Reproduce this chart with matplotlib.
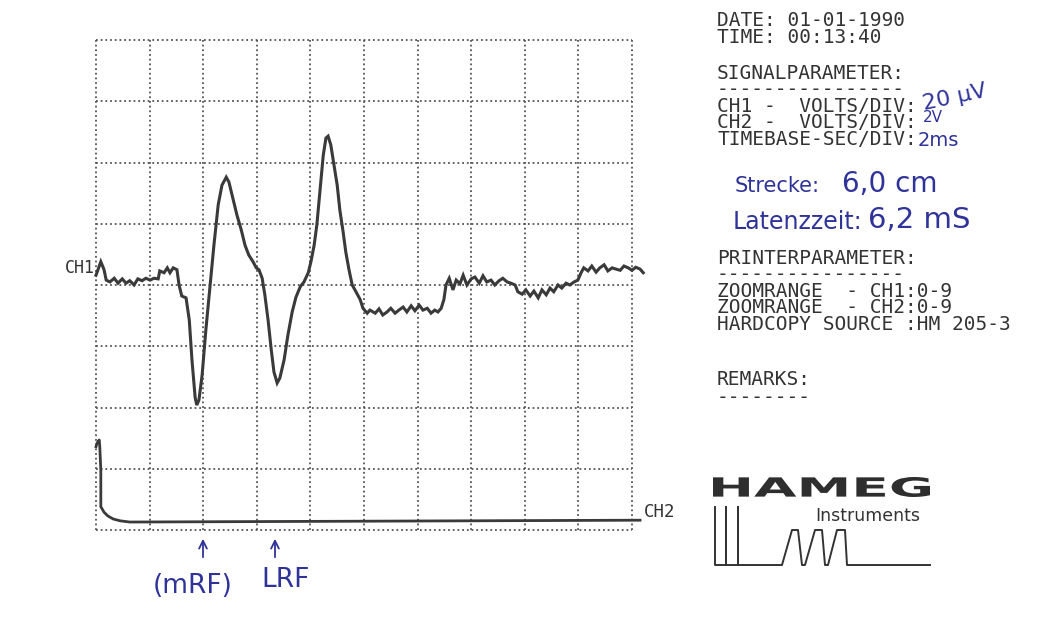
import matplotlib
matplotlib.use("Agg")
import matplotlib.pyplot as plt
from matplotlib.font_manager import FontProperties
from matplotlib.patches import PathPatch
from matplotlib.textpath import TextPath
from matplotlib.transforms import Affine2D

# CH1 trace, screen divisions (x: 0-10 at 2 ms/div, y: 0-8 at 20 uV/div)
ch1_x = [0.00, 0.09, 0.15, 0.19, 0.26, 0.34, 0.41, 0.49, 0.56, 0.63, 0.71, 0.78,
         0.86, 0.93, 1.01, 1.08, 1.16, 1.19, 1.27, 1.33, 1.38, 1.44, 1.51, 1.55,
         1.60, 1.68, 1.74, 1.79, 1.85, 1.88, 1.92, 1.98, 2.05, 2.13, 2.20, 2.28,
         2.35, 2.43, 2.48, 2.56, 2.63, 2.71, 2.78, 2.85, 2.93, 2.99, 3.04, 3.10,
         3.15, 3.21, 3.27, 3.32, 3.38, 3.43, 3.51, 3.58, 3.66, 3.73, 3.81, 3.88,
         3.96, 4.01, 4.07, 4.12, 4.18, 4.24, 4.29, 4.33, 4.38, 4.44, 4.50, 4.55,
         4.61, 4.66, 4.72, 4.78, 4.85, 4.93, 4.98, 5.06, 5.11, 5.21, 5.28, 5.35,
         5.43, 5.50, 5.58, 5.65, 5.73, 5.80, 5.88, 5.95, 6.03, 6.10, 6.18, 6.25,
         6.32, 6.38, 6.44, 6.49, 6.53, 6.59, 6.66, 6.72, 6.79, 6.85, 6.92, 7.00,
         7.07, 7.15, 7.22, 7.29, 7.37, 7.44, 7.52, 7.59, 7.67, 7.74, 7.82, 7.87,
         7.95, 8.02, 8.10, 8.17, 8.25, 8.32, 8.40, 8.47, 8.54, 8.62, 8.69, 8.77,
         8.84, 8.92, 8.99, 9.05, 9.10, 9.18, 9.25, 9.33, 9.40, 9.48, 9.55, 9.63,
         9.70, 9.78, 9.85, 9.93, 10.00, 10.07, 10.15, 10.21]
ch1_y = [4.16, 4.38, 4.25, 4.08, 4.05, 4.11, 4.03, 4.10, 4.03, 4.07, 4.00, 4.10,
         4.07, 4.11, 4.08, 4.11, 4.10, 4.23, 4.20, 4.28, 4.20, 4.28, 4.25, 4.00,
         3.82, 3.79, 3.43, 2.78, 2.16, 2.04, 2.12, 2.53, 3.27, 4.00, 4.65, 5.31,
         5.63, 5.76, 5.68, 5.39, 5.14, 4.90, 4.65, 4.49, 4.38, 4.28, 4.25, 4.11,
         3.84, 3.43, 2.94, 2.58, 2.40, 2.48, 2.78, 3.18, 3.56, 3.80, 3.97, 4.05,
         4.20, 4.38, 4.65, 4.98, 5.55, 6.12, 6.40, 6.43, 6.29, 5.96, 5.63, 5.22,
         4.87, 4.54, 4.25, 4.00, 3.89, 3.76, 3.62, 3.54, 3.59, 3.54, 3.61, 3.51,
         3.56, 3.62, 3.54, 3.59, 3.64, 3.56, 3.66, 3.58, 3.67, 3.59, 3.62, 3.54,
         3.59, 3.56, 3.62, 3.76, 4.00, 4.11, 3.92, 4.08, 4.02, 4.16, 4.00, 4.10,
         4.13, 4.03, 4.15, 4.05, 4.08, 4.00, 4.07, 4.11, 4.05, 4.03, 4.00, 3.89,
         3.85, 3.92, 3.82, 3.90, 3.79, 3.92, 3.84, 3.95, 3.89, 4.00, 3.95, 4.03,
         4.00, 4.05, 4.08, 4.20, 4.28, 4.23, 4.31, 4.21, 4.28, 4.33, 4.23, 4.28,
         4.26, 4.24, 4.31, 4.28, 4.24, 4.29, 4.26, 4.20]

# CH2 trace (trigger channel, 2 V/div)
ch2_x = [0.00, 0.02, 0.06, 0.07, 0.09, 0.09, 0.15, 0.22, 0.32, 0.45, 0.63, 10.15]
ch2_y = [1.36, 1.42, 1.47, 1.37, 0.98, 0.38, 0.29, 0.23, 0.18, 0.15, 0.13, 0.16]

n_xdiv = 10
n_ydiv = 8

header_lines = ["DATE: 01-01-1990", "TIME: 00:13:40"]
signal_lines = ["SIGNALPARAMETER:", "-" * 16, "CH1 -  VOLTS/DIV:",
                "CH2 -  VOLTS/DIV:", "TIMEBASE-SEC/DIV:"]
printer_lines = ["PRINTERPARAMETER:", "-" * 16, "ZOOMRANGE  - CH1:0-9",
                 "ZOOMRANGE  - CH2:0-9", "HARDCOPY SOURCE :HM 205-3"]
remark_lines = ["REMARKS:", "-" * 8]

ink = "#333333"
pen = "#2f3399"
mono = "DejaVu Sans Mono"

fig = plt.figure(figsize=(10.52, 6.17), dpi=100)
fig.patch.set_facecolor("white")

# page layer in pixel units for the printed text and logo
page = fig.add_axes([0, 0, 1, 1])
page.set_xlim(0, 1052)
page.set_ylim(617, 0)
page.axis("off")

# scope screen
scope = fig.add_axes([96 / 1052, 87 / 617, 536 / 1052, 490 / 617])
scope.set_xlim(0, n_xdiv)
scope.set_ylim(0, n_ydiv)
scope.axis("off")
scope.patch.set_alpha(0)
dots = dict(color="#555555", linewidth=1.3, linestyle=(0, (1, 1.6)), clip_on=False)
for i in range(n_xdiv + 1):
    scope.axvline(i, **dots)
for j in range(n_ydiv + 1):
    scope.axhline(j, **dots)

scope.plot(ch1_x, ch1_y, color="#3a3a3a", linewidth=2.2, clip_on=False,
           solid_joinstyle="miter")
scope.plot(ch2_x, ch2_y, color="#3a3a3a", linewidth=2.0, clip_on=False)

page.text(95, 268, "CH1", family=mono, fontsize=12, color=ink, ha="right", va="center")
page.text(644, 512, "CH2", family=mono, fontsize=12.5, color=ink, ha="left", va="center")

# printout text blocks
txt = dict(family=mono, fontsize=14, color=ink, va="top")
page.text(717, 11, "\n".join(header_lines), linespacing=0.86, **txt)
page.text(717, 64, "\n".join(signal_lines), linespacing=0.83, **txt)
page.text(717, 249, "\n".join(printer_lines), linespacing=0.83, **txt)
page.text(717, 370, "\n".join(remark_lines), linespacing=0.95, **txt)

# handwritten notes
hand = dict(family="DejaVu Sans", color=pen, va="center")
page.text(921, 97, "20 µV", fontsize=16, rotation=12, **hand)
page.text(923, 118, "2V", fontsize=11, **hand)
page.text(918, 140, "2ms", fontsize=14, **hand)
page.text(735, 186, "Strecke:", fontsize=15, **hand)
page.text(842, 184, "6,0 cm", fontsize=20, **hand)
page.text(733, 222, "Latenzzeit:", fontsize=17, **hand)
page.text(868, 220, "6,2 mS", fontsize=21, **hand)
for xa in (203, 275):
    page.annotate("", xy=(xa, 536), xytext=(xa, 560),
                  arrowprops=dict(arrowstyle="->", color=pen, linewidth=1.3,
                                  mutation_scale=14))
page.text(193, 586, "(mRF)", fontsize=19, ha="center", **hand)
page.text(286, 580, "LRF", fontsize=19, ha="center", **hand)

# HAMEG logo
tp = TextPath((0, 0), "HAMEG", size=20,
              prop=FontProperties(family="DejaVu Sans", weight="bold"))
ext = tp.get_extents()
logo_tr = (Affine2D().translate(-ext.x0, -ext.y0)
           .scale(217 / ext.width, -20 / ext.height).translate(713, 497))
page.add_patch(PathPatch(logo_tr.transform_path(tp), facecolor="#2e2e2e",
                         edgecolor="none"))
page.text(815, 516, "Instruments", family="DejaVu Sans", fontsize=12.5,
          color=ink, va="center")
wave_x = [715, 715, 715, 726, 726, 726, 738, 738, 738, 782, 792, 798, 802, 805,
          815, 822, 825, 828, 837, 845, 847, 930]
wave_y = [507, 565, 565, 565, 507, 565, 565, 507, 565, 565, 530, 530, 565, 565,
          530, 530, 565, 565, 530, 530, 565, 565]
page.plot(wave_x, wave_y, color=ink, linewidth=1.4)

fig.savefig("out.png", dpi=100)
